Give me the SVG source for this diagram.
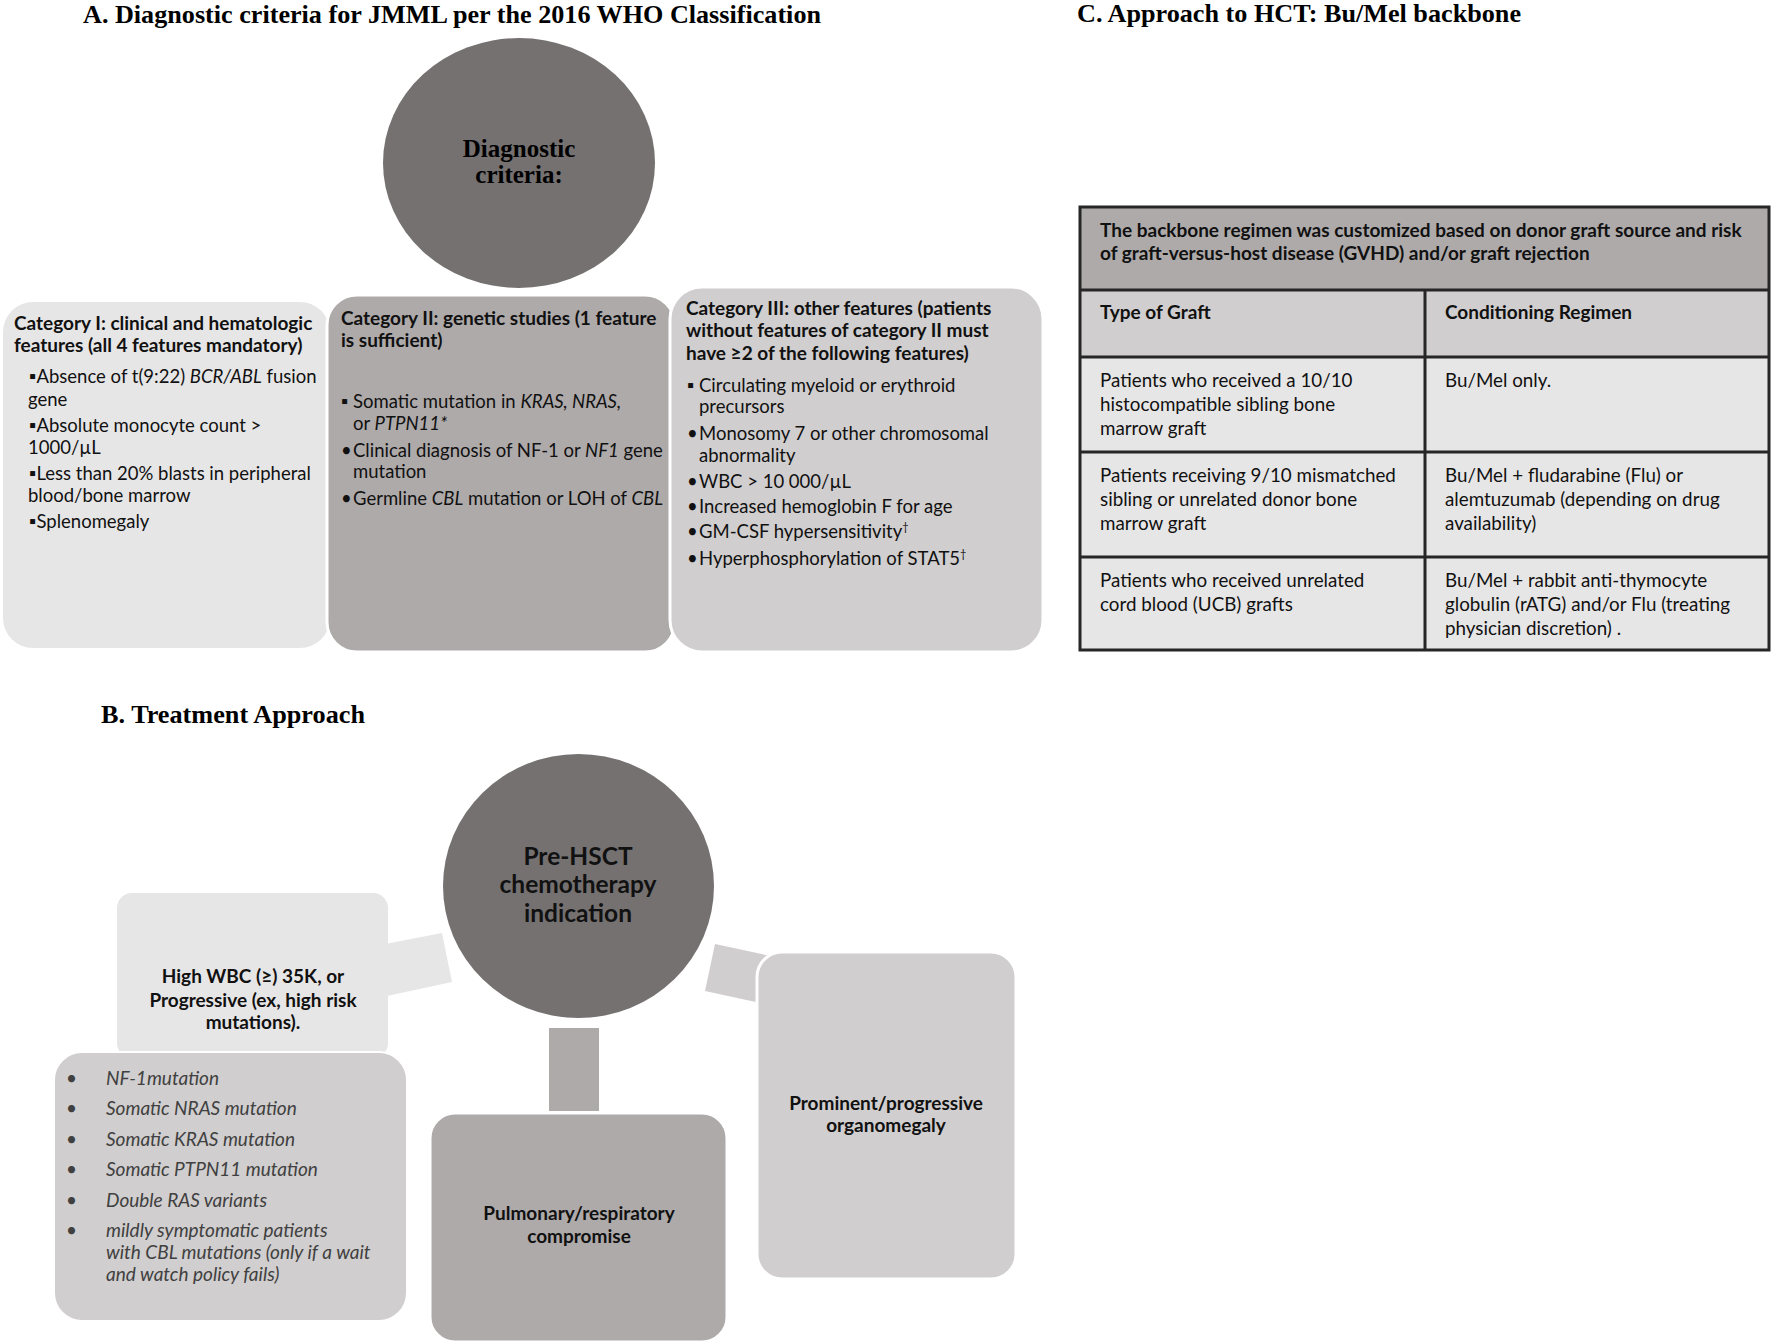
<svg xmlns="http://www.w3.org/2000/svg" width="1771" height="1344" viewBox="0 0 1771 1344">
<style>
.title{font-family:"Liberation Serif","Times New Roman",serif;font-weight:bold;font-size:25px;fill:#000}
.sans{font-family:Lato,"Liberation Sans",sans-serif;fill:#111}
.hdr{font-weight:bold;font-size:19px}
.body{font-size:18.5px}
.tb{font-size:18.8px}
.ctr{text-anchor:middle}
.lst{font-style:italic;font-weight:normal;font-size:19px;fill:#404040}
.c0{fill:#757171}
.c1{fill:#aeaaaa}
.c2{fill:#d0cece}
.c3{fill:#e7e6e6}
.wb{stroke:#fff;stroke-width:3}
.grid{stroke:#262626;stroke-width:3;fill:none}
</style>

<!-- Titles -->
<text class="title" x="83" y="23" textLength="738" lengthAdjust="spacingAndGlyphs">A. Diagnostic criteria for JMML per the 2016 WHO Classification</text>
<text class="title" x="1077" y="22" textLength="444" lengthAdjust="spacingAndGlyphs">C. Approach to HCT: Bu/Mel backbone</text>
<text class="title" x="101" y="723" textLength="264" lengthAdjust="spacingAndGlyphs">B. Treatment Approach</text>

<!-- Part A -->
<g id="catI">
<rect class="c3" x="3" y="302" width="327" height="346" rx="30"/>
<text class="sans hdr" x="14" y="330">Category I: clinical and hematologic</text>
<text class="sans hdr" x="14" y="352">features (all 4 features mandatory)</text>
<text class="sans body" x="29" y="383">▪Absence of t(9:22) <tspan font-style="italic">BCR/ABL</tspan> fusion</text>
<text class="sans body" x="28" y="406">gene</text>
<text class="sans body" x="29" y="432">▪Absolute monocyte count &gt;</text>
<text class="sans body" x="28" y="454">1000/µL</text>
<text class="sans body" x="29" y="480">▪Less than 20% blasts in peripheral</text>
<text class="sans body" x="28" y="502">blood/bone marrow</text>
<text class="sans body" x="29" y="528">▪Splenomegaly</text>
</g>

<g id="catII">
<rect class="c1 wb" x="327" y="295" width="348" height="357" rx="30"/>
<text class="sans hdr" x="341" y="325">Category II: genetic studies (1 feature</text>
<text class="sans hdr" x="341" y="347">is sufficient)</text>
<text class="sans body" x="341" y="408">▪</text>
<text class="sans body" x="353" y="408">Somatic mutation in <tspan font-style="italic">KRAS, NRAS,</tspan></text>
<text class="sans body" x="353" y="430">or <tspan font-style="italic">PTPN11*</tspan></text>
<text class="sans body" x="341" y="457">•</text>
<text class="sans body" x="353" y="457">Clinical diagnosis of NF-1 or <tspan font-style="italic">NF1</tspan> gene</text>
<text class="sans body" x="353" y="478">mutation</text>
<text class="sans body" x="341" y="505">•</text>
<text class="sans body" x="353" y="505">Germline <tspan font-style="italic">CBL</tspan> mutation or LOH of <tspan font-style="italic">CBL</tspan></text>
</g>

<g id="catIII">
<rect class="c2 wb" x="670" y="287" width="373" height="365" rx="32"/>
<text class="sans hdr" x="686" y="315">Category III: other features (patients</text>
<text class="sans hdr" x="686" y="337">without features of category II must</text>
<text class="sans hdr" x="686" y="360">have ≥2 of the following features)</text>
<text class="sans body" x="687" y="392">▪</text>
<text class="sans body" x="699" y="392">Circulating myeloid or erythroid</text>
<text class="sans body" x="699" y="413">precursors</text>
<text class="sans body" x="687" y="440">•</text>
<text class="sans body" x="699" y="440">Monosomy 7 or other chromosomal</text>
<text class="sans body" x="699" y="462">abnormality</text>
<text class="sans body" x="687" y="488">•</text>
<text class="sans body" x="699" y="488">WBC &gt; 10 000/µL</text>
<text class="sans body" x="687" y="513">•</text>
<text class="sans body" x="699" y="513">Increased hemoglobin F for age</text>
<text class="sans body" x="687" y="538">•</text>
<text class="sans body" x="699" y="538">GM-CSF hypersensitivity<tspan font-size="11" dy="-7">†</tspan></text>
<text class="sans body" x="687" y="565">•</text>
<text class="sans body" x="699" y="565">Hyperphosphorylation of STAT5<tspan font-size="11" dy="-7">†</tspan></text>
</g>

<g id="diag">
<ellipse class="c0" cx="519" cy="163" rx="136" ry="125"/>
<text class="title ctr" x="519" y="157" font-size="26">Diagnostic</text>
<text class="title ctr" x="519" y="183" font-size="26">criteria:</text>
</g>

<!-- Part C table -->
<g id="table">
<rect class="c1" x="1080" y="207" width="689" height="83"/>
<rect class="c2" x="1080" y="290" width="689" height="67"/>
<rect class="c3" x="1080" y="357" width="689" height="293"/>
<rect class="grid" x="1080" y="207" width="689" height="443"/>
<line class="grid" x1="1080" y1="290" x2="1769" y2="290"/>
<line class="grid" x1="1080" y1="357" x2="1769" y2="357"/>
<line class="grid" x1="1080" y1="452" x2="1769" y2="452"/>
<line class="grid" x1="1080" y1="557" x2="1769" y2="557"/>
<line class="grid" x1="1425" y1="290" x2="1425" y2="650"/>
<text class="sans hdr" x="1100" y="237" font-size="18.5">The backbone regimen was customized based on donor graft source and risk</text>
<text class="sans hdr" x="1100" y="260" font-size="18.5">of graft-versus-host disease (GVHD) and/or graft rejection</text>
<text class="sans hdr" x="1100" y="319" font-size="18.5">Type of Graft</text>
<text class="sans hdr" x="1445" y="319" font-size="18.5">Conditioning Regimen</text>
<text class="sans tb" x="1100" y="387">Patients who received a 10/10</text>
<text class="sans tb" x="1100" y="411">histocompatible sibling bone</text>
<text class="sans tb" x="1100" y="435">marrow graft</text>
<text class="sans tb" x="1445" y="387">Bu/Mel only.</text>
<text class="sans tb" x="1100" y="482">Patients receiving 9/10 mismatched</text>
<text class="sans tb" x="1100" y="506">sibling or unrelated donor bone</text>
<text class="sans tb" x="1100" y="530">marrow graft</text>
<text class="sans tb" x="1445" y="482">Bu/Mel + fludarabine (Flu) or</text>
<text class="sans tb" x="1445" y="506">alemtuzumab (depending on drug</text>
<text class="sans tb" x="1445" y="530">availability)</text>
<text class="sans tb" x="1100" y="587">Patients  who received unrelated</text>
<text class="sans tb" x="1100" y="611">cord blood (UCB) grafts</text>
<text class="sans tb" x="1445" y="587">Bu/Mel + rabbit anti-thymocyte</text>
<text class="sans tb" x="1445" y="611">globulin (rATG) and/or Flu (treating</text>
<text class="sans tb" x="1445" y="635">physician discretion) .</text>
</g>

<!-- Part B connectors -->
<g id="connectors">
<polygon class="c3" points="385,944 442,933 452,982 387,996"/>
<polygon class="c2" points="715,944 775,957 765,1004 705,991"/>
<rect class="c1" x="549" y="1028" width="50" height="83"/>
</g>

<g id="highwbc">
<rect class="c3" x="117" y="893" width="271" height="165" rx="15"/>
<text class="sans hdr ctr" x="253" y="983" font-size="17.5">High WBC (≥) 35K, or</text>
<text class="sans hdr ctr" x="253" y="1007" font-size="17.5">Progressive (ex, high risk</text>
<text class="sans hdr ctr" x="253" y="1029" font-size="17.5">mutations).</text>
</g>

<g id="mutlist">
<rect class="c2" x="54" y="1052" width="353" height="269" rx="28" stroke="#fff" stroke-width="2"/>
<g class="sans lst">
<text x="66" y="1085">•</text><text x="106" y="1085">NF-1mutation</text>
<text x="66" y="1115">•</text><text x="106" y="1115">Somatic NRAS mutation</text>
<text x="66" y="1146">•</text><text x="106" y="1146">Somatic KRAS mutation</text>
<text x="66" y="1176">•</text><text x="106" y="1176">Somatic PTPN11 mutation</text>
<text x="66" y="1207">•</text><text x="106" y="1207">Double RAS variants</text>
<text x="66" y="1237">•</text><text x="106" y="1237">mildly symptomatic patients</text>
<text x="106" y="1259">with CBL mutations (only if a wait</text>
<text x="106" y="1281">and watch policy fails)</text>
</g>
</g>

<g id="prehsct">
<ellipse class="c0" cx="578.5" cy="886" rx="135.5" ry="132"/>
<text class="sans ctr" x="578" y="865" font-weight="bold" font-size="24.5">Pre-HSCT</text>
<text class="sans ctr" x="578" y="893" font-weight="bold" font-size="24.5">chemotherapy</text>
<text class="sans ctr" x="578" y="922" font-weight="bold" font-size="24.5">indication</text>
</g>

<g id="pulmonary">
<rect class="c1 wb" x="430" y="1113" width="297" height="229" rx="25"/>
<text class="sans hdr ctr" x="579" y="1220">Pulmonary/respiratory</text>
<text class="sans hdr ctr" x="579" y="1243">compromise</text>
</g>

<g id="organomegaly">
<rect class="c2 wb" x="757" y="952" width="259" height="327" rx="25"/>
<text class="sans hdr ctr" x="886" y="1110">Prominent/progressive</text>
<text class="sans hdr ctr" x="886" y="1132">organomegaly</text>
</g>
</svg>
